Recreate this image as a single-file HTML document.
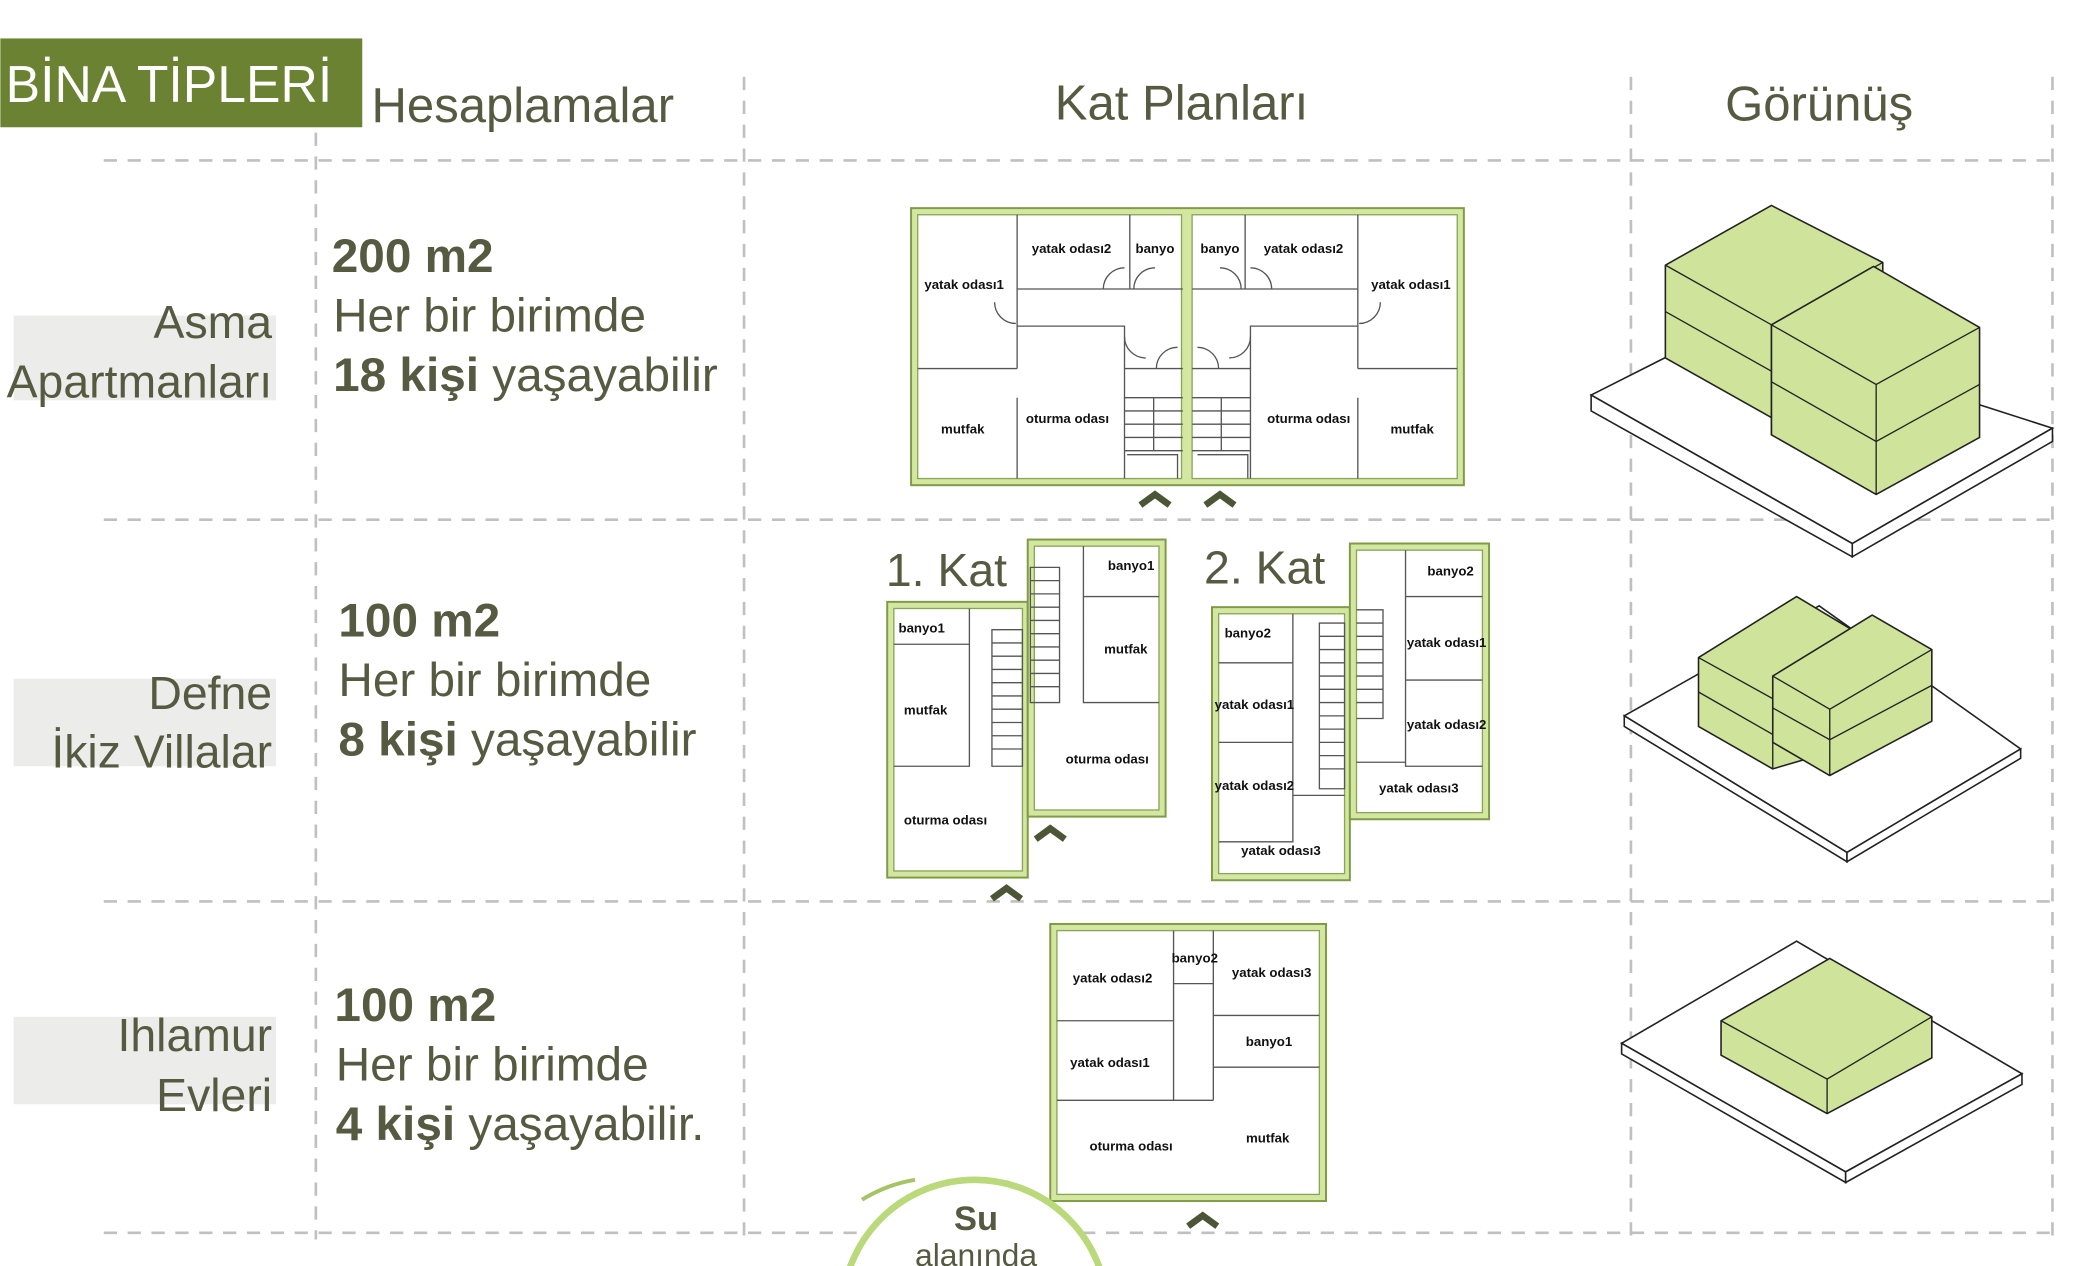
<!DOCTYPE html>
<html><head><meta charset="utf-8"><style>
html,body{margin:0;padding:0;background:#fff;width:2078px;height:1266px;overflow:hidden;}
svg{display:block;}
.h{font-family:"Liberation Sans",sans-serif;fill:#555a40;}
.r{font-family:"Liberation Sans",sans-serif;font-size:10px;font-weight:bold;fill:#111;text-anchor:middle;}
.g{stroke:#c0c0c0;stroke-width:2;stroke-dasharray:10 8;fill:none;}
.o{fill:#d4e7a0;stroke:#7f9a48;stroke-width:1.5;}
.w{fill:#fff;stroke:#8aa55a;stroke-width:1;}
.l{fill:none;stroke:#555;stroke-width:1;}
.ch{fill:none;stroke:#4c5535;stroke-width:5;}
.bx{fill:#cfe49a;stroke:#222;stroke-width:1.2;stroke-linejoin:round;}
.pl{fill:#fff;stroke:#222;stroke-width:1.2;}
</style></head><body>
<svg width="2078" height="1266" viewBox="0 0 1567 955" xmlns="http://www.w3.org/2000/svg">
<!-- grid -->
<g class="g">
<line x1="78" y1="121" x2="1548" y2="121"/><line x1="78" y1="392" x2="1548" y2="392"/>
<line x1="78" y1="680" x2="1548" y2="680"/><line x1="78" y1="930" x2="1548" y2="930"/>
<line x1="238" y1="100" x2="238" y2="935"/><line x1="561" y1="58" x2="561" y2="935"/>
<line x1="1230" y1="58" x2="1230" y2="935"/><line x1="1548" y1="58" x2="1548" y2="935"/>
</g>
<!-- headers -->
<rect x="0" y="29" width="273" height="67" fill="#6b8232"/>
<text x="4" y="77" class="h" style="fill:#fff;font-size:39px">BİNA TİPLERİ</text>
<text x="280" y="92" class="h" style="font-size:37px">Hesaplamalar</text>
<text x="891" y="90" class="h" style="font-size:37px" text-anchor="middle">Kat Planları</text>
<text x="1372" y="91" class="h" style="font-size:37px" text-anchor="middle">Görünüş</text>
<!-- left labels -->
<rect x="10" y="238" width="198" height="64" fill="#ececea"/>
<rect x="10" y="512" width="198" height="66" fill="#ececea"/>
<rect x="10" y="767" width="198" height="66" fill="#ececea"/>
<g class="h" style="font-size:35px" text-anchor="end">
<text x="205" y="255">Asma</text><text x="205" y="300">Apartmanları</text>
<text x="205" y="535">Defne</text><text x="205" y="579">İkiz Villalar</text>
<text x="205" y="793">Ihlamur</text><text x="205" y="838">Evleri</text>
</g>
<!-- calculations -->
<g class="h" style="font-size:36px">
<text x="250" y="205" font-weight="bold">200 m2</text><text x="251" y="250">Her bir birimde</text>
<text x="251" y="295"><tspan font-weight="bold">18 kişi</tspan> yaşayabilir</text>
<text x="255" y="480" font-weight="bold">100 m2</text><text x="255" y="525">Her bir birimde</text>
<text x="255" y="570"><tspan font-weight="bold">8 kişi</tspan> yaşayabilir</text>
<text x="252" y="770" font-weight="bold">100 m2</text><text x="253" y="815">Her bir birimde</text>
<text x="253" y="860"><tspan font-weight="bold">4 kişi</tspan> yaşayabilir.</text>
</g>
<!-- plan 1 -->
<rect x="687" y="157" width="417" height="209" class="o"/>
<rect x="692" y="162" width="199" height="199" class="w"/>
<rect x="899" y="162" width="200" height="199" class="w"/>
<g class="l">
<path d="M767 162V278M692 278H767M767 218H892M852 162V218M767 246H848V361M848 278H892M767 300V361"/>
<path d="M848 300H892M848 310H892M848 320H892M848 330H892M848 340H892M870 300V340M850 343H888V361"/>
<path d="M1024 162V278M1099 278H1024M899 218H1024M939 162V218M1024 246H943V361M943 278H899M1024 300V361"/>
<path d="M899 300H943M899 310H943M899 320H943M899 330H943M899 340H943M921 300V340M903 343H941V361"/>
<path d="M750 228a16 16 0 0 0 16 16M832 218a16 16 0 0 1 16-16M855 218a16 16 0 0 1 16-16M848 254a16 16 0 0 0 16 16M872 278a16 16 0 0 1 16-16"/>
<path d="M1041 228a16 16 0 0 1-16 16M959 218a16 16 0 0 0-16-16M936 218a16 16 0 0 0-16-16M943 254a16 16 0 0 1-16 16M919 278a16 16 0 0 0-16-16"/>
</g>
<g class="r"><text x="727" y="218">yatak odası1</text><text x="808" y="191">yatak odası2</text><text x="871" y="191">banyo</text>
<text x="726" y="327">mutfak</text><text x="805" y="319">oturma odası</text>
<text x="920" y="191">banyo</text><text x="983" y="191">yatak odası2</text><text x="1064" y="218">yatak odası1</text>
<text x="987" y="319">oturma odası</text><text x="1065" y="327">mutfak</text></g>
<polyline class="ch" points="860,381 871,373 882,381"/><polyline class="ch" points="909,381 920,373 931,381"/>
<!-- plan 2 -->
<text x="668" y="442" class="h" style="font-size:35px">1. Kat</text>
<text x="908" y="440" class="h" style="font-size:35px">2. Kat</text>
<rect x="669" y="454" width="106" height="208" class="o"/><rect x="674" y="459" width="97" height="198" class="w"/>
<rect x="775" y="407" width="104" height="209" class="o"/><rect x="780" y="412" width="94" height="199" class="w"/>
<rect x="914" y="458" width="104" height="206" class="o"/><rect x="919" y="463" width="95" height="196" class="w"/>
<rect x="1018" y="410" width="105" height="208" class="o"/><rect x="1023" y="415" width="95" height="198" class="w"/>
<g class="l">
<path d="M674 486H731V578H674M731 459V578M748 475H771V578H748ZM748 485H771M748 495H771M748 505H771M748 515H771M748 525H771M748 535H771M748 545H771M748 555H771M748 565H771"/>
<path d="M817 412V530H874M817 450H874M777 428H799V530H777ZM777 438H799M777 448H799M777 458H799M777 468H799M777 478H799M777 488H799M777 498H799M777 508H799M777 518H799"/>
<path d="M919 500H975V635H919M919 560H975M975 463V635M995 470H1014V595H995ZM995 480H1014M995 490H1014M995 500H1014M995 510H1014M995 520H1014M995 530H1014M995 540H1014M995 550H1014M995 560H1014M995 570H1014M995 580H1014M975 600H1014"/>
<path d="M1060 415V578H1118M1060 450H1118M1060 513H1118M1023 575H1060M1023 460H1043V542H1023M1023 470H1043M1023 480H1043M1023 490H1043M1023 500H1043M1023 510H1043M1023 520H1043M1023 530H1043"/>
</g>
<g class="r"><text x="695" y="477">banyo1</text><text x="698" y="539">mutfak</text><text x="713" y="622">oturma odası</text>
<text x="853" y="430">banyo1</text><text x="849" y="493">mutfak</text><text x="835" y="576">oturma odası</text>
<text x="941" y="481">banyo2</text><text x="946" y="535">yatak odası1</text><text x="946" y="596">yatak odası2</text><text x="966" y="645">yatak odası3</text>
<text x="1094" y="434">banyo2</text><text x="1091" y="488">yatak odası1</text><text x="1091" y="550">yatak odası2</text><text x="1070" y="598">yatak odası3</text></g>
<polyline class="ch" points="748,678 759,670 770,678"/><polyline class="ch" points="781,633 792,625 803,633"/>
<!-- plan 3 -->
<rect x="792" y="697" width="208" height="209" class="o"/><rect x="797" y="702" width="198" height="199" class="w"/>
<g class="l">
<path d="M797 770H885V702M797 830H885V770M885 742H915V702M915 702V830M915 766H995M915 805H995M797 830H915"/>
</g>
<g class="r"><text x="839" y="741">yatak odası2</text><text x="901" y="726">banyo2</text><text x="959" y="737">yatak odası3</text>
<text x="837" y="805">yatak odası1</text><text x="957" y="789">banyo1</text><text x="853" y="868">oturma odası</text><text x="956" y="862">mutfak</text></g>
<polyline class="ch" points="896,925 907,917 918,925"/>
<!-- circle -->
<circle cx="735" cy="990" r="100" fill="#fff" stroke="#b9d97a" stroke-width="5"/>
<path d="M650 905 A110 110 0 0 1 690 890" fill="none" stroke="#a5c466" stroke-width="3"/>
<text x="736" y="928" class="h" style="font-size:26px;font-weight:bold" text-anchor="middle">Su</text>
<text x="736" y="955" class="h" style="font-size:24px" text-anchor="middle">alanında</text>
<!-- iso 1 -->
<polygon class="pl" points="1200,298 1305,245 1548,323 1397,410"/>
<polygon class="pl" points="1200,298 1397,410 1397,420 1200,310"/>
<polygon class="pl" points="1397,410 1548,323 1548,333 1397,420"/>
<polygon class="bx" points="1256,200 1336,155 1420,198 1420,270 1336,315 1256,270"/>
<polyline class="l" points="1256,200 1336,245 1420,198" style="stroke:#222"/>
<polyline class="l" points="1256,235 1336,280" style="stroke:#222"/>
<polygon class="bx" points="1336,245 1413,201 1493,247 1493,330 1415,373 1336,328"/>
<polyline class="l" points="1336,245 1415,290 1493,247" style="stroke:#222"/>
<polyline class="l" points="1336,288 1415,333 1493,290" style="stroke:#222"/>
<line x1="1415" y1="290" x2="1415" y2="373" stroke="#222"/>
<line x1="1336" y1="245" x2="1336" y2="328" stroke="#222"/>
<!-- iso 2 -->
<polygon class="pl" points="1225,540 1372,457 1524,565 1393,643"/>
<polygon class="pl" points="1225,540 1393,643 1393,650 1225,548"/>
<polygon class="pl" points="1393,643 1524,565 1524,572 1393,650"/>
<polygon class="bx" points="1281,496 1355,450 1405,480 1405,560 1337,580 1281,548"/>
<polyline class="l" points="1281,496 1337,527 1337,580" style="stroke:#222"/>
<line x1="1281" y1="522" x2="1337" y2="554" stroke="#222"/>
<polygon class="bx" points="1337,510 1412,464 1457,490 1457,544 1380,585 1337,560"/>
<polyline class="l" points="1337,510 1380,535 1457,490" style="stroke:#222"/>
<polyline class="l" points="1337,534 1380,558 1457,517" style="stroke:#222"/>
<line x1="1380" y1="535" x2="1380" y2="585" stroke="#222"/>
<!-- iso 3 -->
<polygon class="pl" points="1223,787 1355,710 1525,810 1392,884"/>
<polygon class="pl" points="1223,787 1392,884 1392,892 1223,795"/>
<polygon class="pl" points="1392,884 1525,810 1525,818 1392,892"/>
<polygon class="bx" points="1298,770 1380,723 1457,767 1457,798 1378,840 1298,796"/>
<polyline class="l" points="1298,770 1378,814 1457,767" style="stroke:#222"/>
<line x1="1378" y1="814" x2="1378" y2="840" stroke="#222"/>
</svg>
</body></html>
